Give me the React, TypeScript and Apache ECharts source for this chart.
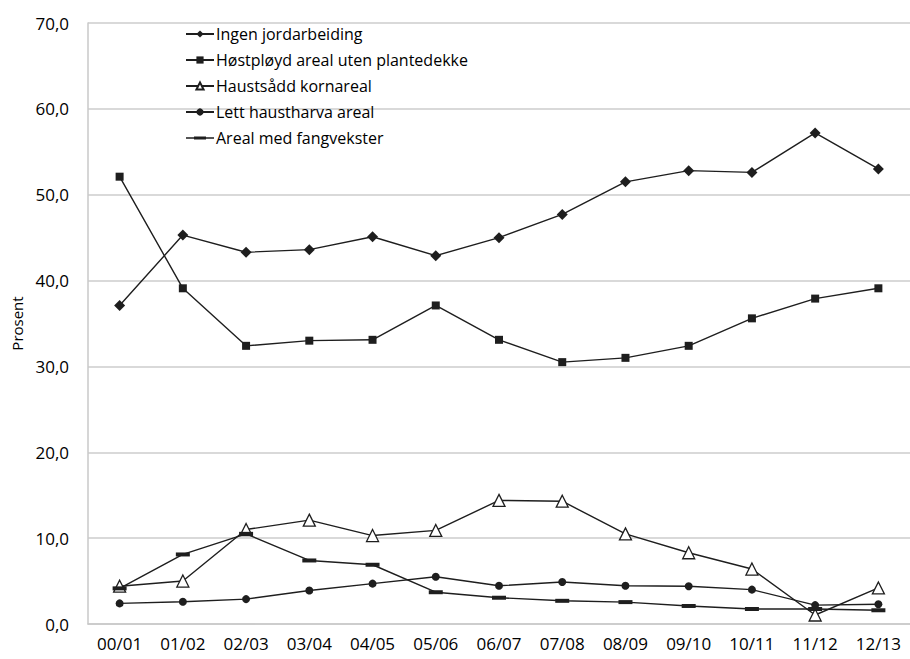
import React, { useEffect, useRef } from "react";
import * as echarts from "echarts";

const categories = ["00/01", "01/02", "02/03", "03/04", "04/05", "05/06", "06/07", "07/08", "08/09", "09/10", "10/11", "11/12", "12/13"];
const ingenJordarbeiding = [37.1, 45.3, 43.3, 43.6, 45.1, 42.9, 45.0, 47.7, 51.5, 52.8, 52.6, 57.2, 53.0];
const hostployd = [52.1, 39.1, 32.4, 33.0, 33.1, 37.1, 33.1, 30.5, 31.0, 32.4, 35.6, 37.9, 39.1];
const haustsadd = [4.4, 5.0, 11.0, 12.1, 10.3, 10.9, 14.4, 14.3, 10.5, 8.3, 6.4, 1.05, 4.2];
const lettHaustharva = [2.4, 2.6, 2.9, 3.9, 4.7, 5.5, 4.45, 4.9, 4.45, 4.4, 4.0, 2.2, 2.3];
const fangvekster = [4.15, 8.1, 10.5, 7.4, 6.9, 3.7, 3.06, 2.7, 2.55, 2.1, 1.75, 1.75, 1.6];
const yTicks = { min: 0, max: 70, interval: 10 };

const FONT = "'Open Sans', sans-serif";
const LINE = "#1e1e1e";
// legend icon for the dash series: thin line across, thicker dash in the middle
const DASH_LEGEND = "path://M0,0L0,0M0,9L0,9M0,3.8H28V5.2H0ZM8,3H20V6H8Z";

export default function App() {
  const ref = useRef<HTMLDivElement>(null);
  useEffect(() => {
    if (!ref.current) return;
    const chart = echarts.init(ref.current, undefined, { renderer: "svg" });
    const mk = (name: string, data: number[], symbol: string, size: any, fill: string) => ({
      name,
      type: "line",
      data,
      symbol,
      symbolSize: size,
      showAllSymbol: true,
      lineStyle: { color: LINE, width: 1.4 },
      itemStyle: { color: fill, borderColor: LINE, borderWidth: fill === "#ffffff" ? 1.3 : 0 },
      emphasis: { disabled: true },
    });
    chart.setOption({
      animation: false,
      backgroundColor: "#ffffff",
      textStyle: { fontFamily: FONT },
      grid: { left: 88, right: 0, top: 23, bottom: 35, containLabel: false },
      legend: {
        orient: "vertical",
        left: 180,
        top: 21,
        itemWidth: 28,
        itemHeight: 9,
        itemGap: 10,
        textStyle: { fontFamily: FONT, fontSize: 16, color: "#000", padding: [0, 0, 0, -3] },
        data: [
          { name: "Ingen jordarbeiding" },
          { name: "Høstpløyd areal uten plantedekke" },
          { name: "Haustsådd kornareal" },
          { name: "Lett haustharva areal" },
          { name: "Areal med fangvekster", icon: DASH_LEGEND },
        ],
      },
      xAxis: {
        type: "category",
        data: categories,
        boundaryGap: true,
        axisLine: { lineStyle: { color: "#c8c8c8", width: 1.5 } },
        axisTick: { show: false },
        axisLabel: { fontFamily: FONT, fontSize: 17, color: "#000", margin: 11 },
      },
      yAxis: {
        type: "value",
        min: yTicks.min,
        max: yTicks.max,
        interval: yTicks.interval,
        name: "Prosent",
        nameLocation: "middle",
        nameGap: 62,
        nameTextStyle: { fontFamily: FONT, fontSize: 15, color: "#000" },
        axisLine: { show: true, lineStyle: { color: "#c8c8c8", width: 1.5 } },
        axisTick: { show: false },
        splitLine: { lineStyle: { color: "#cccccc", width: 1.5 } },
        axisLabel: {
          fontFamily: FONT,
          fontSize: 17,
          color: "#000",
          margin: 19,
          formatter: (v: number) => v.toFixed(1).replace(".", ","),
        },
      },
      series: [
        mk("Ingen jordarbeiding", ingenJordarbeiding, "diamond", 11, LINE),
        mk("Høstpløyd areal uten plantedekke", hostployd, "rect", 8, LINE),
        mk("Haustsådd kornareal", haustsadd, "triangle", 12, "#ffffff"),
        mk("Lett haustharva areal", lettHaustharva, "circle", 8, LINE),
        mk("Areal med fangvekster", fangvekster, "rect", [14, 4], LINE),
      ],
    });
    return () => chart.dispose();
  }, []);
  return <div ref={ref} style={{ position: "fixed", left: 0, top: 0, width: 910, height: 659 }} />;
}
